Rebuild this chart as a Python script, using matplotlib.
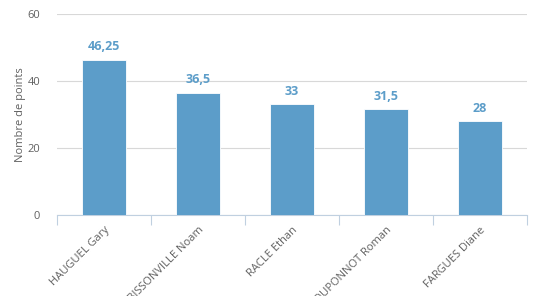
import matplotlib.pyplot as plt
import numpy as np

plt.rcParams['font.family'] = ['Open Sans', 'DejaVu Sans']

# data
names = ['HAUGUEL Gary', 'BISSONVILLE Noam', 'RACLE Ethan', 'DUPONNOT Roman', 'FARGUES Diane']
points = [46.25, 36.5, 33, 31.5, 28]
point_labels = ['46,25', '36,5', '33', '31,5', '28']

bar_color = '#5c9dc9'
grid_color = '#d8d8d8'
axis_color = '#c0d0e0'

fig = plt.figure(figsize=(5.35, 2.96), dpi=100)
ax = fig.add_axes([0.1065, 0.2736, 0.8785, 0.6791])

x = np.arange(len(names))
ax.bar(x, points, width=0.47, color=bar_color, edgecolor='white', linewidth=0.6, zorder=3)

for xi, v, lab in zip(x, points, point_labels):
    ax.text(xi, v + 2.0, lab, ha='center', va='bottom', fontsize=9,
            fontweight='bold', color=bar_color)

ax.set_xlim(-0.5, len(names) - 0.5)
ax.set_ylim(0, 60)
ax.set_yticks([0, 20, 40, 60])
ax.yaxis.grid(True, color=grid_color, linewidth=0.8, zorder=0)
ax.tick_params(axis='y', length=0, labelsize=8, labelcolor='#606060', pad=12)

ax.set_xticks(x)
ax.set_xticklabels(names, rotation=45, ha='right', rotation_mode='anchor',
                   fontsize=8, color='#606060')
ax.tick_params(axis='x', which='major', length=0, pad=7)
ax.set_xticks(np.arange(-0.5, len(names)), minor=True)
ax.tick_params(axis='x', which='minor', length=7, color=axis_color, width=0.8)

for s in ['top', 'right', 'left']:
    ax.spines[s].set_visible(False)
ax.spines['bottom'].set_color(axis_color)
ax.spines['bottom'].set_linewidth(0.8)

ax.set_ylabel('Nombre de points', fontsize=8, color='#606060', labelpad=1)

fig.savefig('out.png', dpi=100)
